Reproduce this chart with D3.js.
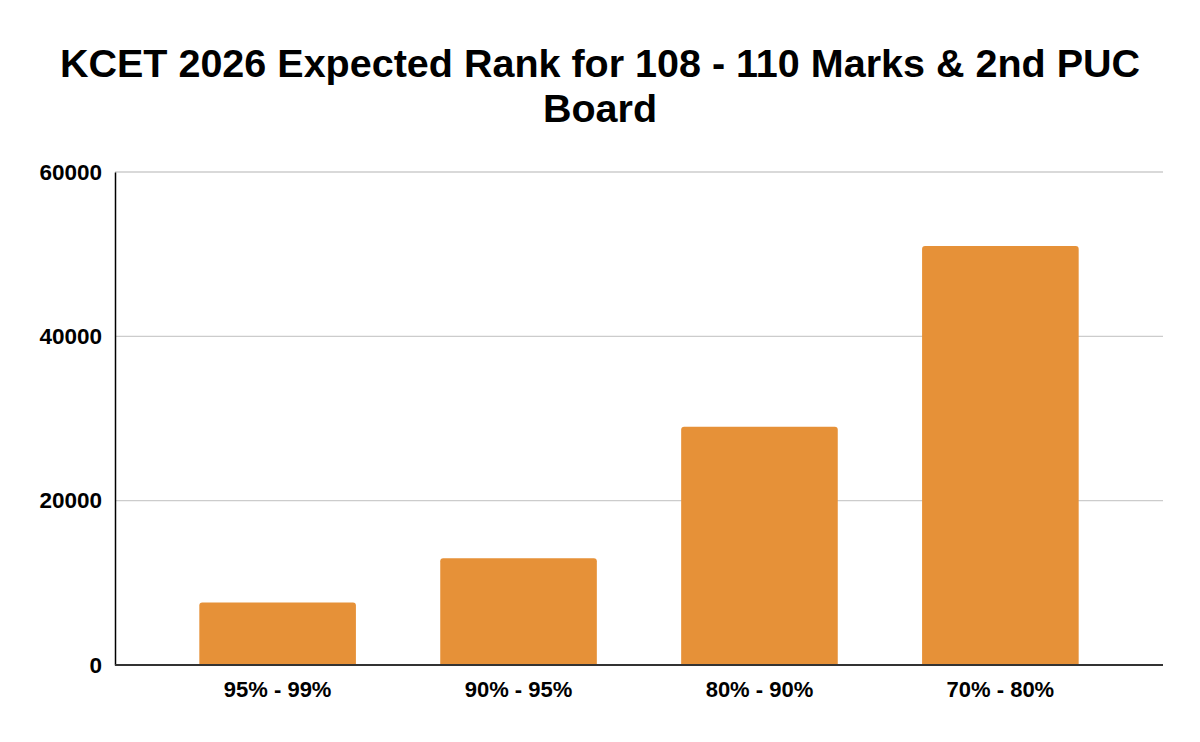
<!DOCTYPE html>
<html>
<head>
<meta charset="utf-8">
<script src="https://cdn.jsdelivr.net/npm/d3@7"></script>
<style>
  body { margin: 0; background: #fff; }
  svg { display: block; font-family: "Liberation Sans", Arial, sans-serif; }
</style>
</head>
<body>
<script>
// data
const categories = ["95% - 99%", "90% - 95%", "80% - 90%", "70% - 80%"];
const ranks = [7600, 13000, 29000, 51000];
const yTicks = [0, 20000, 40000, 60000];
const titleLines = ["KCET 2026 Expected Rank for 108 - 110 Marks & 2nd PUC", "Board"];

const width = 1200, height = 742;
const margin = {top: 172, right: 37, bottom: 77, left: 115};

const svg = d3.select("body").append("svg")
  .attr("width", width)
  .attr("height", height);

const x = d3.scaleBand()
  .domain(categories)
  .range([margin.left, width - margin.right])
  .paddingInner(0.35)
  .paddingOuter(0.35);

const y = d3.scaleLinear()
  .domain([0, 60000])
  .range([height - margin.bottom, margin.top]);

// title
svg.append("g")
  .selectAll("text")
  .data(titleLines)
  .join("text")
  .attr("x", width / 2)
  .attr("y", (d, i) => 77 + i * 45)
  .attr("text-anchor", "middle")
  .style("font-size", "39.5px")
  .style("font-weight", "bold")
  .attr("fill", "#000")
  .text(d => d);

// gridlines
svg.append("g")
  .selectAll("line")
  .data(yTicks.filter(d => d > 0))
  .join("line")
  .attr("x1", margin.left)
  .attr("x2", width - margin.right)
  .attr("y1", d => y(d))
  .attr("y2", d => y(d))
  .attr("stroke", "#cccccc")
  .attr("stroke-width", 1.3);

// y axis
const yAxis = svg.append("g")
  .attr("transform", `translate(${margin.left},0)`)
  .call(d3.axisLeft(y).tickValues(yTicks).tickSize(0).tickPadding(13).tickFormat(d3.format("d")));
yAxis.select(".domain").attr("stroke", "#000").attr("stroke-width", 1.5);
yAxis.selectAll("text")
  .style("font-size", "22.5px")
  .style("font-weight", "bold")
  .style("font-family", "'Liberation Sans', Arial, sans-serif")
  .attr("fill", "#000");

// bars, rounded top corners only
const r = 3;
svg.append("g")
  .selectAll("path")
  .data(categories)
  .join("path")
  .attr("fill", "#e69138")
  .attr("d", (d, i) => {
    const x0 = x(d), x1 = x(d) + x.bandwidth();
    const top = y(ranks[i]), base = y(0);
    return `M${x0},${base}V${top + r}Q${x0},${top} ${x0 + r},${top}H${x1 - r}Q${x1},${top} ${x1},${top + r}V${base}Z`;
  });

// x axis
const xAxis = svg.append("g")
  .attr("transform", `translate(0,${y(0)})`)
  .call(d3.axisBottom(x).tickSize(0).tickPadding(16));
xAxis.select(".domain")
  .attr("d", `M${margin.left},0H${width - margin.right}`)
  .attr("stroke", "#333")
  .attr("stroke-width", 2);
xAxis.selectAll("text")
  .style("font-size", "22px")
  .style("font-weight", "bold")
  .style("font-family", "'Liberation Sans', Arial, sans-serif")
  .attr("fill", "#000");
</script>
</body>
</html>
